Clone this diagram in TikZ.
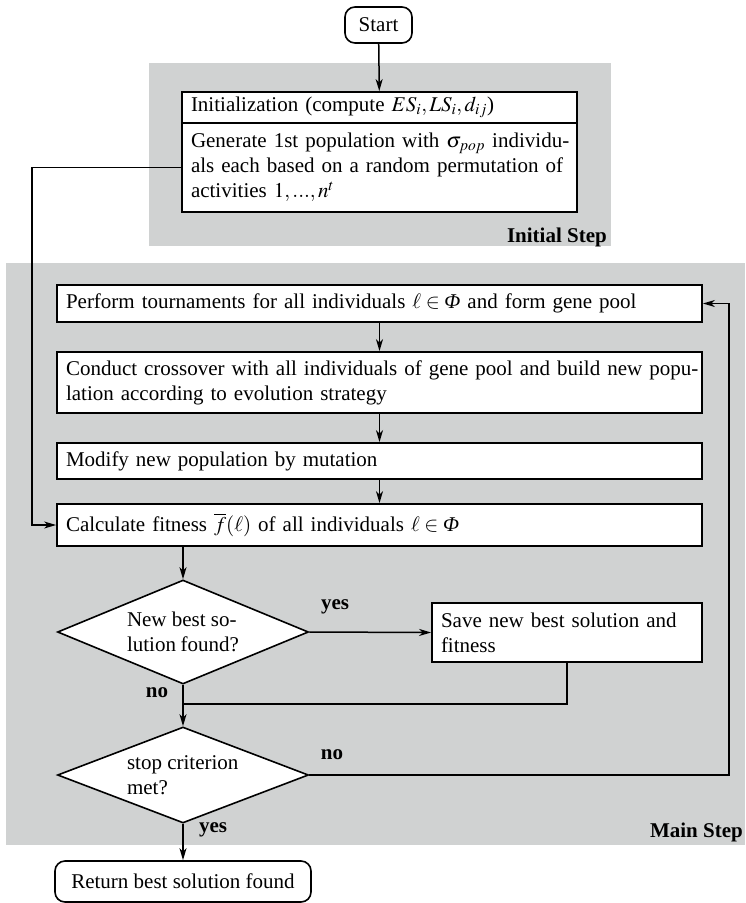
\documentclass[tikz,border=0pt]{standalone}
\usepackage{mathptmx}
\usepackage{fontspec}
\setmainfont{Liberation Serif}
\usetikzlibrary{shapes.geometric,arrows.meta}
\definecolor{bggray}{RGB}{208,210,210}
\tikzset{
  every node/.style={font=\fontsize{21}{25}\selectfont},
  box/.style={draw, fill=white, line width=1.8pt, rectangle, inner xsep=9pt, inner ysep=0pt, align=left},
  rbox/.style={draw, fill=white, line width=1.6pt, rectangle, rounded corners=10pt, inner sep=0pt, align=center},
  dec/.style={draw, fill=white, line width=1.6pt, diamond, inner sep=0pt, aspect=2.4},
  conn/.style={line width=1.5pt},
  arr/.style={line width=1.5pt, -{Stealth[length=12pt,width=7pt,inset=3.5pt]}},
  lbl/.style={font=\fontsize{21}{25}\selectfont\bfseries, inner sep=0pt},
  bgbox/.style={fill=bggray, draw=none}
}
\begin{document}
\begin{tikzpicture}[x=1pt,y=-1pt]
\useasboundingbox (0,0) rectangle (745,903);
% backgrounds
\fill[bggray] (149,63) rectangle (611,246);
\fill[bggray] (6,263) rectangle (745,845);
\node[lbl, anchor=east] (initlbl) at (607,237) {Initial Step};
\node[lbl, anchor=east] (mainlbl) at (743,832) {Main Step};

% nodes
\node[rbox, minimum width=67pt, minimum height=36pt] (start) at (378.5,25) {Start};
\node[box, text width=377pt, minimum height=31pt] (init1) at (379.5,107.5)
  {Initialization (compute $ES_i, LS_i, d_{ij}$)};
\node[box, text width=377pt, minimum height=89pt] (init2) at (379.5,167.5)
  {\noindent\makebox[\hsize][s]{Generate 1st population with $\sigma_{pop}$ individu-}\\
   \makebox[\hsize][s]{als each based on a random permutation of}\\
   activities $1,...,n^t$};
\node[box, text width=627pt, minimum height=37pt] (perform) at (379.5,303.5)
  {Perform tournaments for all individuals $\ell\in\mbox{\itshape Φ}$ and form gene pool};
\node[box, text width=627pt, minimum height=61pt] (conduct) at (379.5,382.5)
  {\noindent\makebox[\hsize][s]{Conduct crossover with all individuals of gene pool and build new popu-}\\
   lation according to evolution strategy};
\node[box, text width=627pt, minimum height=36pt] (modify) at (379.5,461)
  {Modify new population by mutation};
\node[box, text width=627pt, minimum height=42pt] (calc) at (379.5,525)
  {Calculate fitness $\overline{f}(\ell)$ of all individuals $\ell\in\mbox{\itshape Φ}$};
\node[dec, minimum width=251pt, minimum height=104pt] (d1) at (183,632)
  {\parbox{112pt}{New best so-\\lution found?}};
\node[box, text width=252pt, minimum height=59pt] (save) at (567,632.5)
  {\noindent\makebox[\hsize][s]{Save new best solution and}\\ fitness};
\node[dec, minimum width=251pt, minimum height=96pt] (d2) at (183,775)
  {\parbox{112pt}{stop criterion\\met?}};
\node[rbox, minimum width=256pt, minimum height=41pt] (ret) at (183,881.5)
  {Return best solution found};

% coordinates
\coordinate (lc) at (32,300);
\coordinate (jn) at (183,704);
\coordinate (rc) at (729,500);

% connectors
\draw[arr] (start) -- (init1);
\draw[arr] (init2.west) -| (lc) |- (calc.west);
\draw[arr] (perform) -- (conduct);
\draw[arr] (conduct) -- (modify);
\draw[arr] (modify) -- (calc);
\draw[arr] (calc.south -| d1.north) -- (d1.north);
\draw[arr] (d1.east) -- (save.west);
\draw[arr] (d1.south) -- (d2.north);
\draw[conn] (save.south) |- (jn);
\draw[arr] (d2.east) -| (rc) |- (perform.east);
\draw[arr] (d2.south) -- (ret.north);

% labels
\node[lbl] (yes1) at (335,607) {yes};
\node[lbl] (no1) at (157,693) {no};
\node[lbl] (no2) at (332,755) {no};
\node[lbl] (yes2) at (213,830) {yes};
\end{tikzpicture}
\end{document}
